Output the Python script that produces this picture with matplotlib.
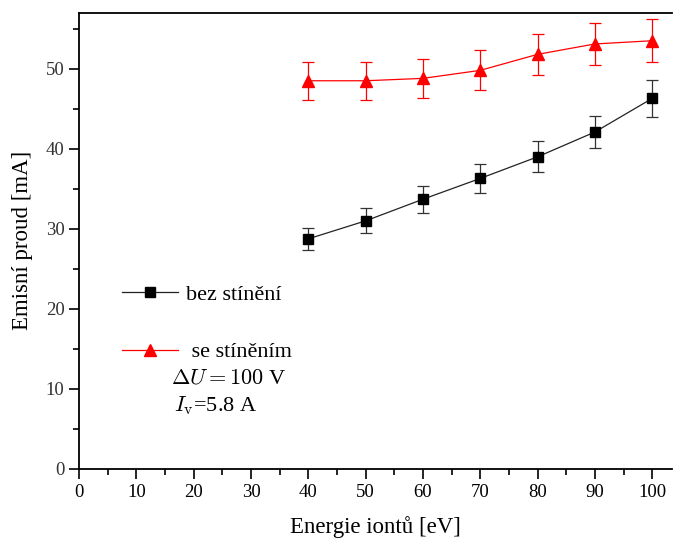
import numpy as np
import matplotlib
matplotlib.use("Agg")
import matplotlib.pyplot as plt
from matplotlib.ticker import MultipleLocator

plt.rcParams["font.family"] = ["Liberation Serif", "DejaVu Serif"]
plt.rcParams["mathtext.fontset"] = "cm"

energy = [40, 50, 60, 70, 80, 90, 100]
bez = [28.75, 31.0, 33.7, 36.3, 39.0, 42.1, 46.3]
bez_err = [1.4, 1.55, 1.7, 1.8, 1.95, 2.05, 2.3]
se = [48.5, 48.5, 48.8, 49.8, 51.8, 53.1, 53.5]
se_err = [2.4, 2.4, 2.4, 2.5, 2.6, 2.6, 2.7]

fig = plt.figure(figsize=(6.73, 5.39), dpi=100)
ax = fig.add_axes([0.1174, 0.1299, 0.8816, 0.8465])

eb1 = ax.errorbar(energy, bez, yerr=bez_err, color="#222222", lw=0.9, marker="s", ms=7,
                  mfc="black", mec="black", ecolor="#333333", elinewidth=0.9, capsize=4,
                  capthick=0.9)
eb2 = ax.errorbar(energy, se, yerr=se_err, color="red", lw=0.9, marker="^", ms=9,
                  mfc="red", mec="red", ecolor="red", elinewidth=0.9, capsize=4,
                  capthick=0.9)

ax.set_xlim(0, 103.5)
ax.set_ylim(0, 57)
ax.xaxis.set_major_locator(MultipleLocator(10))
ax.xaxis.set_minor_locator(MultipleLocator(5))
ax.yaxis.set_major_locator(MultipleLocator(10))
ax.yaxis.set_minor_locator(MultipleLocator(5))
ax.tick_params(which="major", direction="out", length=7, width=1.2, labelsize=13.5)
ax.tick_params(which="minor", direction="out", length=4, width=1.2)
ax.tick_params(axis="y", labelcolor="#333333")
ax.spines["right"].set_visible(False)
for s in ("left", "bottom", "top"):
    ax.spines[s].set_linewidth(1.3)

ax.set_xlabel("Energie iontů [eV]", fontsize=16.5, labelpad=11)
ax.set_ylabel("Emisní proud [mA]", fontsize=16.5, labelpad=9)

ax.legend([eb1[0], eb2[0]], ["bez stínění", " se stíněním"], loc="upper left",
          bbox_to_anchor=(0.0725, 0.404), frameon=False, fontsize=16, borderpad=0,
          borderaxespad=0, handlelength=2.5, handletextpad=0.4, labelspacing=1.65)
ax.text(0.155, 0.198, r"$\Delta U = 100$ V", transform=ax.transAxes, fontsize=16,
        va="center")
ax.text(0.16, 0.138, r"$I_{\rm v}$=5.8 A", transform=ax.transAxes, fontsize=16,
        va="center")

fig.savefig("out.png", dpi=100)
